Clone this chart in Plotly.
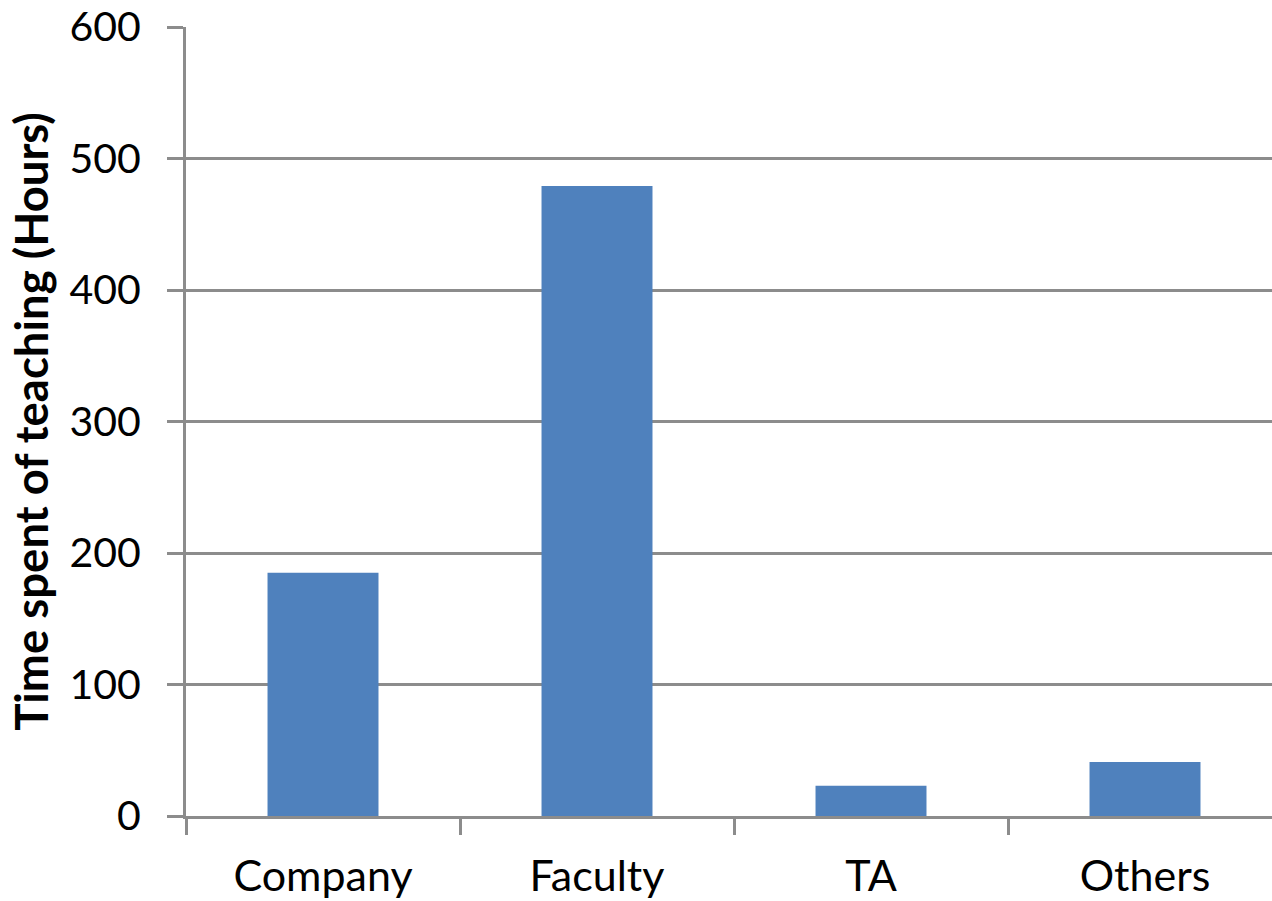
import plotly.graph_objects as go

categories = ["Company", "Faculty", "TA", "Others"]
hours = [185, 479, 23, 41]
y_ticks = [0, 100, 200, 300, 400, 500, 600]

axis_grey = "#8c8c8c"
font_family = "Lato, 'Open Sans', sans-serif"

fig = go.Figure(
    go.Bar(
        x=list(range(len(categories))),
        y=hours,
        marker=dict(color="#4f81bd", line=dict(width=0)),
        width=0.405,
    )
)

fig.update_layout(
    width=1272,
    height=901,
    margin=dict(l=186, r=0, t=27, b=85),
    paper_bgcolor="white",
    plot_bgcolor="white",
    showlegend=False,
    font=dict(family=font_family, color="black"),
)

fig.update_xaxes(
    range=[-0.5, 3.4635],
    tickmode="array",
    tickvals=list(range(len(categories))),
    ticktext=categories,
    tickfont=dict(size=43),
    ticks="",
    ticklabelstandoff=20,
    showgrid=False,
    showline=True,
    linecolor=axis_grey,
    linewidth=3,
    zeroline=False,
    minor=dict(
        tickmode="array",
        tickvals=[-0.5, 0.5, 1.5, 2.5],
        ticks="outside",
        ticklen=16,
        tickwidth=3,
        tickcolor=axis_grey,
        showgrid=False,
    ),
)

fig.update_yaxes(
    range=[0, 600],
    tickmode="array",
    tickvals=y_ticks,
    tickfont=dict(size=41),
    ticks="outside",
    ticklen=16,
    tickwidth=3,
    tickcolor=axis_grey,
    ticklabelstandoff=18,
    showgrid=True,
    gridcolor=axis_grey,
    gridwidth=3,
    showline=True,
    linecolor=axis_grey,
    linewidth=3,
    zeroline=False,
    title=dict(
        text="<b>Time spent of teaching (Hours)</b>",
        font=dict(size=45.5),
        standoff=7,
    ),
)

fig.write_html("out.html")
